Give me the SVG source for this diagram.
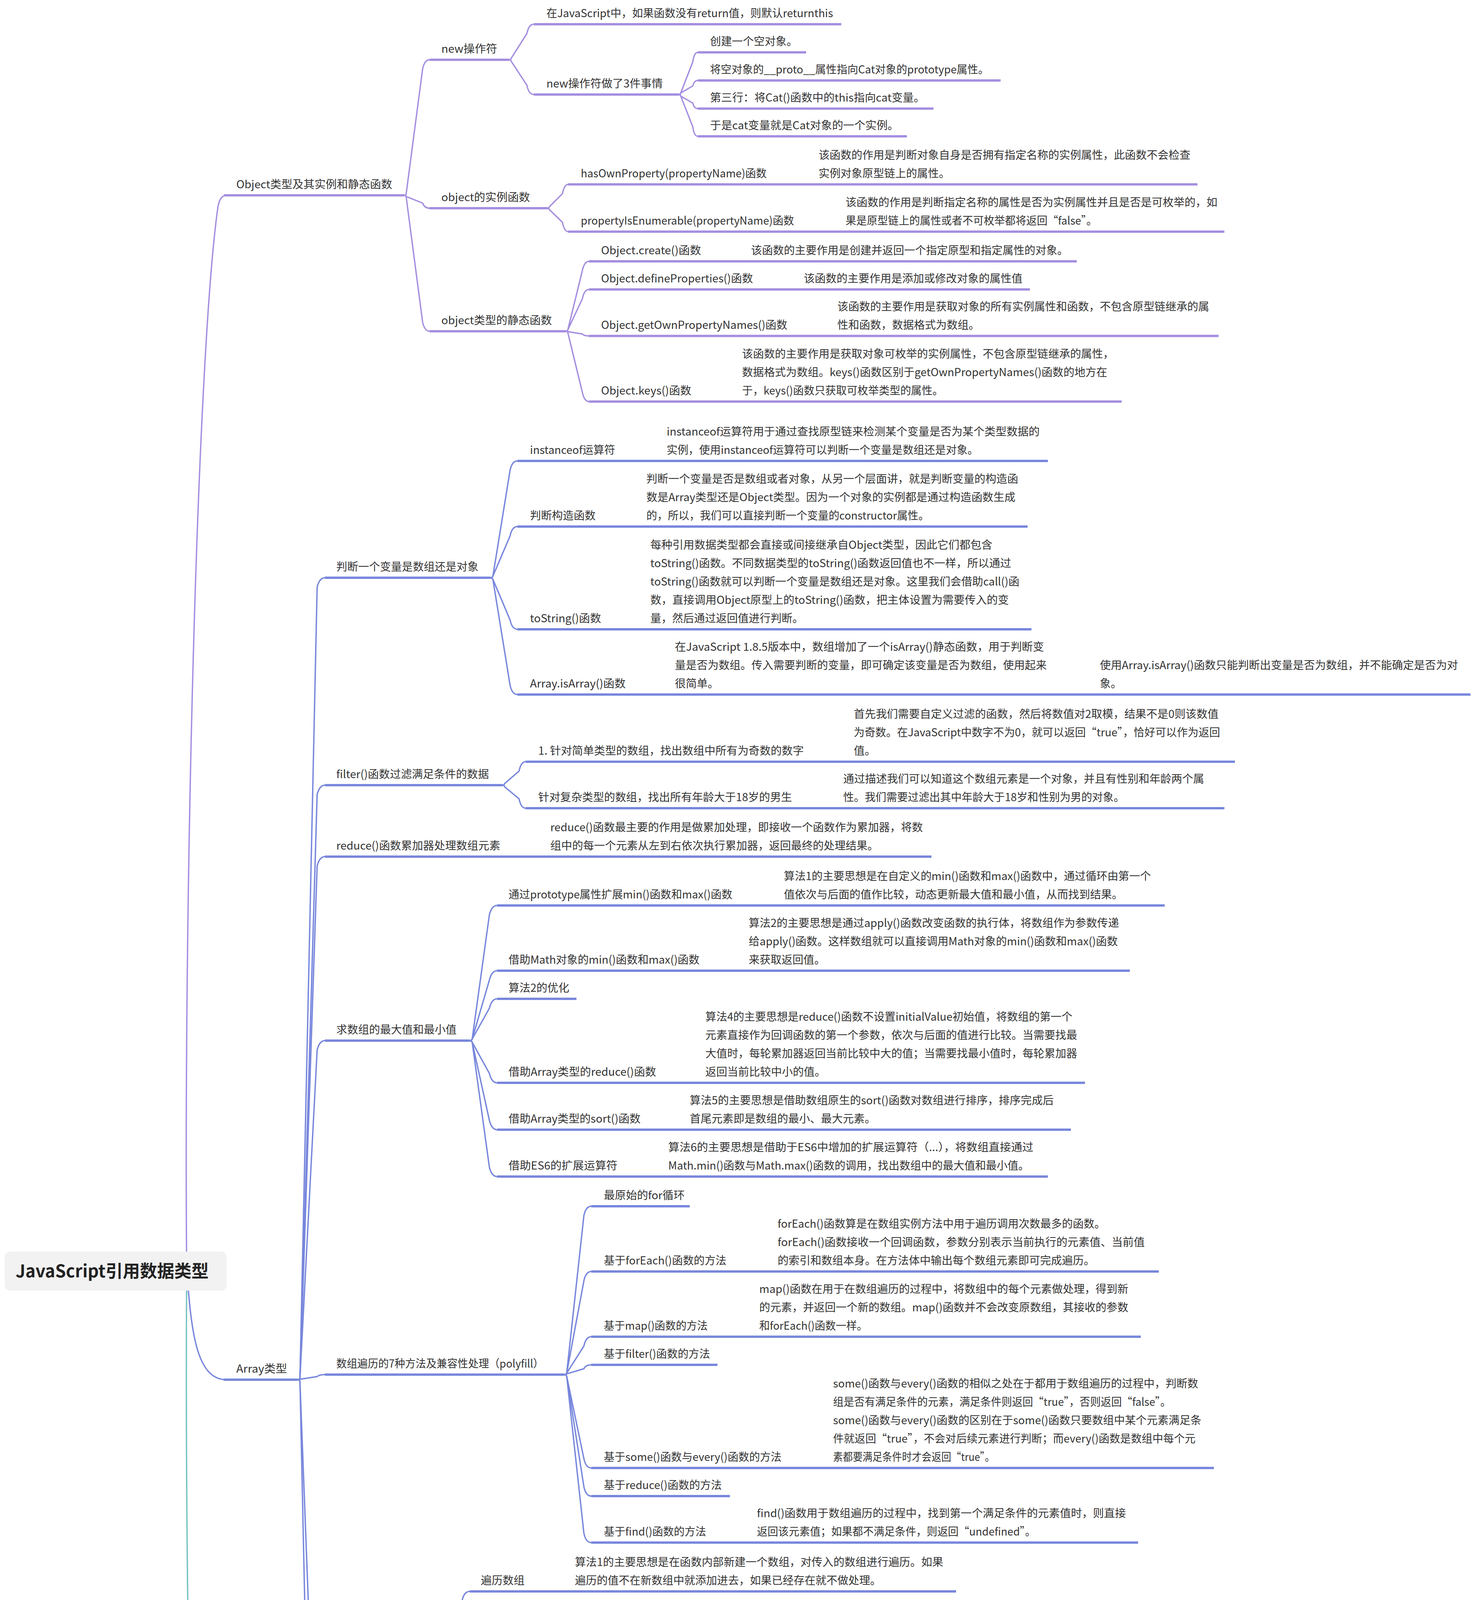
<svg xmlns="http://www.w3.org/2000/svg" width="3792" height="6244" viewBox="0 0 3792 6244">
<style>
.t{font-family:"Noto Sans CJK SC","Liberation Sans",sans-serif;font-size:28px;fill:#333}
.r{font-family:"Noto Sans CJK SC","Liberation Sans",sans-serif;font-size:44px;font-weight:bold;fill:#222}
.uo{stroke:#a58fe0;stroke-width:6;fill:none}
.ua{stroke:#7887dc;stroke-width:6;fill:none}
.ud{stroke:#77c4c1;stroke-width:6;fill:none}
.co{stroke:#a58fe0;stroke-width:3.5;fill:none}
.ca{stroke:#7887dc;stroke-width:3.5;fill:none}
.cd{stroke:#77c4c1;stroke-width:3.5;fill:none}
</style>
<rect width="3792" height="6244" fill="#ffffff"/>
<g id="connectors">
<path class="co" d="M478 3254 C470 2300 505 900 558 530 Q563 500 580 500"/>
<path class="ca" d="M478 3254 C490 3400 500 3532 580 3532"/>
<path class="cd" d="M478 3254 C470 4500 520 5800 560 5990 Q566 6017 585 6017"/>
<path class="co" d="M1035 500 Q1039 500 1040 496 L1082 177 Q1087 153 1100 153"/>
<path class="co" d="M1035 500 Q1039 500 1040 503 L1082 520 Q1087 533 1100 533"/>
<path class="co" d="M1035 500 Q1039 500 1040 504 L1082 824 Q1087 848 1100 848"/>
<path class="co" d="M1304 153 Q1308 153 1309 149 L1349 86 Q1354 62 1367 62"/>
<path class="co" d="M1304 153 Q1308 153 1309 157 L1349 218 Q1354 242 1367 242"/>
<path class="co" d="M1739 242 Q1742 242 1743 238 L1774 158 Q1777 134 1787 134"/>
<path class="co" d="M1739 242 Q1742 242 1743 238 L1774 220 Q1777 206 1787 206"/>
<path class="co" d="M1739 242 Q1742 242 1743 246 L1774 264 Q1777 278 1787 278"/>
<path class="co" d="M1739 242 Q1742 242 1743 246 L1774 325 Q1777 349 1787 349"/>
<path class="co" d="M1403 533 Q1406 533 1407 529 L1440 496 Q1445 472 1455 472"/>
<path class="co" d="M1403 533 Q1406 533 1407 537 L1440 569 Q1445 593 1455 593"/>
<path class="co" d="M1449 848 Q1453 848 1454 844 L1491 693 Q1496 669 1508 669"/>
<path class="co" d="M1449 848 Q1453 848 1454 844 L1491 765 Q1496 741 1508 741"/>
<path class="co" d="M1449 848 Q1453 848 1454 849 L1491 855 Q1496 860 1508 860"/>
<path class="co" d="M1449 848 Q1453 848 1454 852 L1491 1004 Q1496 1028 1508 1028"/>
<path class="ca" d="M762 3532 Q766 3532 768 3528 L812 1503 Q818 1479 832 1479"/>
<path class="ca" d="M762 3532 Q766 3532 768 3528 L812 2034 Q818 2010 832 2010"/>
<path class="ca" d="M762 3532 Q766 3532 768 3528 L812 2217 Q818 2193 832 2193"/>
<path class="ca" d="M762 3532 Q766 3532 768 3528 L812 2688 Q818 2664 832 2664"/>
<path class="ca" d="M762 3532 Q766 3532 768 3531 L812 3524 Q818 3519 832 3519"/>
<path class="ca" d="M762 3532 Q766 3532 768 3536 L812 4697 Q818 4721 832 4721"/>
<path class="ca" d="M762 3532 Q766 3532 768 3536 L812 5563 Q818 5587 832 5587"/>
<path class="ca" d="M1256 1479 Q1260 1479 1262 1475 L1306 1204 Q1311 1180 1325 1180"/>
<path class="ca" d="M1256 1479 Q1260 1479 1262 1475 L1306 1372 Q1311 1348 1325 1348"/>
<path class="ca" d="M1256 1479 Q1260 1479 1262 1483 L1306 1587 Q1311 1611 1325 1611"/>
<path class="ca" d="M1256 1479 Q1260 1479 1262 1483 L1306 1754 Q1311 1778 1325 1778"/>
<path class="ca" d="M1287 2010 Q1291 2010 1292 2006 L1329 1974 Q1334 1950 1346 1950"/>
<path class="ca" d="M1287 2010 Q1291 2010 1292 2014 L1329 2045 Q1334 2069 1346 2069"/>
<path class="ca" d="M1203 2664 Q1207 2664 1209 2660 L1253 2342 Q1259 2318 1273 2318"/>
<path class="ca" d="M1203 2664 Q1207 2664 1209 2660 L1253 2509 Q1259 2485 1273 2485"/>
<path class="ca" d="M1203 2664 Q1207 2664 1209 2660 L1253 2581 Q1259 2557 1273 2557"/>
<path class="ca" d="M1203 2664 Q1207 2664 1209 2668 L1253 2748 Q1259 2772 1273 2772"/>
<path class="ca" d="M1203 2664 Q1207 2664 1209 2668 L1253 2868 Q1259 2892 1273 2892"/>
<path class="ca" d="M1203 2664 Q1207 2664 1209 2668 L1253 2988 Q1259 3012 1273 3012"/>
<path class="ca" d="M1445 3519 Q1449 3519 1451 3515 L1495 3112 Q1500 3088 1514 3088"/>
<path class="ca" d="M1445 3519 Q1449 3519 1451 3515 L1495 3279 Q1500 3255 1514 3255"/>
<path class="ca" d="M1445 3519 Q1449 3519 1451 3515 L1495 3446 Q1500 3422 1514 3422"/>
<path class="ca" d="M1445 3519 Q1449 3519 1451 3517 L1495 3504 Q1500 3494 1514 3494"/>
<path class="ca" d="M1445 3519 Q1449 3519 1451 3523 L1495 3734 Q1500 3758 1514 3758"/>
<path class="ca" d="M1445 3519 Q1449 3519 1451 3523 L1495 3806 Q1500 3830 1514 3830"/>
<path class="ca" d="M1445 3519 Q1449 3519 1451 3523 L1495 3925 Q1500 3949 1514 3949"/>
<path class="ca" d="M1130 4721 Q1134 4721 1136 4717 L1183 4098 Q1188 4074 1203 4074"/>
<path class="ca" d="M1130 4721 Q1134 4721 1136 4717 L1183 4313 Q1188 4289 1203 4289"/>
<path class="ca" d="M1130 4721 Q1134 4721 1136 4717 L1183 4481 Q1188 4457 1203 4457"/>
<path class="ca" d="M1130 4721 Q1134 4721 1136 4725 L1183 5008 Q1188 5032 1203 5032"/>
<path class="ca" d="M1130 4721 Q1134 4721 1136 4725 L1183 5127 Q1188 5151 1203 5151"/>
<path class="ca" d="M1130 4721 Q1134 4721 1136 4725 L1183 5343 Q1188 5367 1203 5367"/>
<path class="ca" d="M2663 5367 Q2666 5367 2668 5363 L2705 5345 Q2709 5331 2721 5331"/>
<path class="ca" d="M2663 5367 Q2666 5367 2668 5371 L2705 5389 Q2709 5403 2721 5403"/>
<path class="ca" d="M1455 5587 Q1459 5587 1460 5583 L1497 5503 Q1502 5479 1514 5479"/>
<path class="ca" d="M1455 5587 Q1459 5587 1460 5583 L1497 5565 Q1502 5551 1514 5551"/>
<path class="ca" d="M1455 5587 Q1459 5587 1460 5591 L1497 5608 Q1502 5622 1514 5622"/>
<path class="ca" d="M1455 5587 Q1459 5587 1460 5591 L1497 5671 Q1502 5695 1514 5695"/>
<path class="cd" d="M699 6017 Q703 6017 705 6013 L749 5894 Q754 5870 768 5870"/>
<path class="cd" d="M699 6017 Q703 6017 705 6021 L749 6141 Q754 6165 768 6165"/>
<path class="cd" d="M969 5870 Q973 5870 974 5866 L1017 5822 Q1023 5798 1036 5798"/>
<path class="cd" d="M969 5870 Q973 5870 974 5874 L1017 5918 Q1023 5942 1036 5942"/>
<path class="cd" d="M944 6165 Q948 6165 949 6161 L992 6118 Q997 6094 1010 6094"/>
<path class="cd" d="M944 6165 Q948 6165 949 6169 L992 6213 Q997 6237 1010 6237"/>
</g>
<g id="n-root"><rect x="12" y="3204" width="568" height="100" rx="14" fill="#f2f2f2"/><text class="r" x="40" y="3270">JavaScript引用数据类型</text></g>
<g id="n-object"><path class="uo" d="M573 500H1035"/><text class="t" x="605" y="482" textLength="399" lengthAdjust="spacingAndGlyphs">Object类型及其实例和静态函数</text></g>
<g id="n-new"><path class="uo" d="M1100 153H1304"/><text class="t" x="1130" y="135" textLength="143" lengthAdjust="spacingAndGlyphs">new操作符</text></g>
<g id="n-new-return"><path class="uo" d="M1367 62H2154"/><text class="t" x="1399" y="44" textLength="734" lengthAdjust="spacingAndGlyphs">在JavaScript中，如果函数没有return值，则默认returnthis</text></g>
<g id="n-new-3"><path class="uo" d="M1367 242H1739"/><text class="t" x="1399" y="224" textLength="298" lengthAdjust="spacingAndGlyphs">new操作符做了3件事情</text></g>
<g id="n-new-3-1"><path class="uo" d="M1787 134H2064"/><text class="t" x="1818" y="116">创建一个空对象。</text></g>
<g id="n-new-3-2"><path class="uo" d="M1787 206H2562"/><text class="t" x="1818" y="188" textLength="714" lengthAdjust="spacingAndGlyphs">将空对象的__proto__属性指向Cat对象的prototype属性。</text></g>
<g id="n-new-3-3"><path class="uo" d="M1787 278H2390"/><text class="t" x="1818" y="260" textLength="550" lengthAdjust="spacingAndGlyphs">第三行：将Cat()函数中的this指向cat变量。</text></g>
<g id="n-new-3-4"><path class="uo" d="M1787 349H2322"/><text class="t" x="1818" y="331" textLength="483" lengthAdjust="spacingAndGlyphs">于是cat变量就是Cat对象的一个实例。</text></g>
<g id="n-inst"><path class="uo" d="M1100 533H1403"/><text class="t" x="1130" y="515" textLength="227" lengthAdjust="spacingAndGlyphs">object的实例函数</text></g>
<g id="n-hasown"><path class="uo" d="M1455 472H2066"/><text class="t" x="1487" y="454" textLength="476" lengthAdjust="spacingAndGlyphs">hasOwnProperty(propertyName)函数</text></g>
<g id="n-hasown-d"><path class="uo" d="M2066 472H3066"/><text class="t" x="2096" y="407">该函数的作用是判断对象自身是否拥有指定名称的实例属性，此函数不会检查</text><text class="t" x="2096" y="454">实例对象原型链上的属性。</text></g>
<g id="n-propenum"><path class="uo" d="M1455 593H2135"/><text class="t" x="1487" y="575" textLength="546" lengthAdjust="spacingAndGlyphs">propertyIsEnumerable(propertyName)函数</text></g>
<g id="n-propenum-d"><path class="uo" d="M2135 593H3135"/><text class="t" x="2165" y="528">该函数的作用是判断指定名称的属性是否为实例属性并且是否是可枚举的，如</text><text class="t" x="2165" y="575" textLength="644" lengthAdjust="spacingAndGlyphs">果是原型链上的属性或者不可枚举都将返回“false”。</text></g>
<g id="n-static"><path class="uo" d="M1100 848H1449"/><text class="t" x="1130" y="830" textLength="283" lengthAdjust="spacingAndGlyphs">object类型的静态函数</text></g>
<g id="n-create"><path class="uo" d="M1508 669H1893"/><text class="t" x="1539" y="651" textLength="256" lengthAdjust="spacingAndGlyphs">Object.create()函数</text></g>
<g id="n-create-d"><path class="uo" d="M1893 669H2757"/><text class="t" x="1923" y="651">该函数的主要作用是创建并返回一个指定原型和指定属性的对象。</text></g>
<g id="n-define"><path class="uo" d="M1508 741H2028"/><text class="t" x="1539" y="723" textLength="389" lengthAdjust="spacingAndGlyphs">Object.defineProperties()函数</text></g>
<g id="n-define-d"><path class="uo" d="M2028 741H2637"/><text class="t" x="2058" y="723">该函数的主要作用是添加或修改对象的属性值</text></g>
<g id="n-getown"><path class="uo" d="M1508 860H2114"/><text class="t" x="1539" y="842" textLength="477" lengthAdjust="spacingAndGlyphs">Object.getOwnPropertyNames()函数</text></g>
<g id="n-getown-d"><path class="uo" d="M2114 860H3120"/><text class="t" x="2144" y="795">该函数的主要作用是获取对象的所有实例属性和函数，不包含原型链继承的属</text><text class="t" x="2144" y="842">性和函数，数据格式为数组。</text></g>
<g id="n-keys"><path class="uo" d="M1508 1028H1870"/><text class="t" x="1539" y="1010" textLength="231" lengthAdjust="spacingAndGlyphs">Object.keys()函数</text></g>
<g id="n-keys-d"><path class="uo" d="M1870 1028H2872"/><text class="t" x="1900" y="916">该函数的主要作用是获取对象可枚举的实例属性，不包含原型链继承的属性，</text><text class="t" x="1900" y="963" textLength="935" lengthAdjust="spacingAndGlyphs">数据格式为数组。keys()函数区别于getOwnPropertyNames()函数的地方在</text><text class="t" x="1900" y="1010" textLength="515" lengthAdjust="spacingAndGlyphs">于，keys()函数只获取可枚举类型的属性。</text></g>
<g id="n-array"><path class="ua" d="M573 3532H762"/><text class="t" x="605" y="3514" textLength="130" lengthAdjust="spacingAndGlyphs">Array类型</text></g>
<g id="n-judge"><path class="ua" d="M832 1479H1256"/><text class="t" x="861" y="1461">判断一个变量是数组还是对象</text></g>
<g id="n-instanceof"><path class="ua" d="M1325 1180H1677"/><text class="t" x="1357" y="1162" textLength="218" lengthAdjust="spacingAndGlyphs">instanceof运算符</text></g>
<g id="n-instanceof-d"><path class="ua" d="M1677 1180H2683"/><text class="t" x="1707" y="1115" textLength="955" lengthAdjust="spacingAndGlyphs">instanceof运算符用于通过查找原型链来检测某个变量是否为某个类型数据的</text><text class="t" x="1707" y="1162" textLength="798" lengthAdjust="spacingAndGlyphs">实例，使用instanceof运算符可以判断一个变量是数组还是对象。</text></g>
<g id="n-ctor"><path class="ua" d="M1325 1348H1625"/><text class="t" x="1357" y="1330">判断构造函数</text></g>
<g id="n-ctor-d"><path class="ua" d="M1625 1348H2631"/><text class="t" x="1655" y="1236">判断一个变量是否是数组或者对象，从另一个层面讲，就是判断变量的构造函</text><text class="t" x="1655" y="1283" textLength="945" lengthAdjust="spacingAndGlyphs">数是Array类型还是Object类型。因为一个对象的实例都是通过构造函数生成</text><text class="t" x="1655" y="1330" textLength="724" lengthAdjust="spacingAndGlyphs">的，所以，我们可以直接判断一个变量的constructor属性。</text></g>
<g id="n-tostring"><path class="ua" d="M1325 1611H1635"/><text class="t" x="1357" y="1593" textLength="182" lengthAdjust="spacingAndGlyphs">toString()函数</text></g>
<g id="n-tostring-d"><path class="ua" d="M1635 1611H2641"/><text class="t" x="1665" y="1405" textLength="876" lengthAdjust="spacingAndGlyphs">每种引用数据类型都会直接或间接继承自Object类型，因此它们都包含</text><text class="t" x="1665" y="1452" textLength="924" lengthAdjust="spacingAndGlyphs">toString()函数。不同数据类型的toString()函数返回值也不一样，所以通过</text><text class="t" x="1665" y="1499" textLength="945" lengthAdjust="spacingAndGlyphs">toString()函数就可以判断一个变量是数组还是对象。这里我们会借助call()函</text><text class="t" x="1665" y="1546" textLength="918" lengthAdjust="spacingAndGlyphs">数，直接调用Object原型上的toString()函数，把主体设置为需要传入的变</text><text class="t" x="1665" y="1593">量，然后通过返回值进行判断。</text></g>
<g id="n-isarray"><path class="ua" d="M1325 1778H1698"/><text class="t" x="1357" y="1760" textLength="245" lengthAdjust="spacingAndGlyphs">Array.isArray()函数</text></g>
<g id="n-isarray-d"><path class="ua" d="M1698 1778H2704"/><text class="t" x="1728" y="1666" textLength="945" lengthAdjust="spacingAndGlyphs">在JavaScript 1.8.5版本中，数组增加了一个isArray()静态函数，用于判断变</text><text class="t" x="1728" y="1713">量是否为数组。传入需要判断的变量，即可确定该变量是否为数组，使用起来</text><text class="t" x="1728" y="1760">很简单。</text></g>
<g id="n-isarray-d2"><path class="ua" d="M2704 1778H3765"/><text class="t" x="2816" y="1713" textLength="917" lengthAdjust="spacingAndGlyphs">使用Array.isArray()函数只能判断出变量是否为数组，并不能确定是否为对</text><text class="t" x="2816" y="1760">象。</text></g>
<g id="n-filter"><path class="ua" d="M832 2010H1287"/><text class="t" x="861" y="1992" textLength="391" lengthAdjust="spacingAndGlyphs">filter()函数过滤满足条件的数据</text></g>
<g id="n-filter-1"><path class="ua" d="M1346 1950H2156"/><text class="t" x="1378" y="1932" textLength="680" lengthAdjust="spacingAndGlyphs">1. 针对简单类型的数组，找出数组中所有为奇数的数字</text></g>
<g id="n-filter-1-d"><path class="ua" d="M2156 1950H3162"/><text class="t" x="2186" y="1838" textLength="934" lengthAdjust="spacingAndGlyphs">首先我们需要自定义过滤的函数，然后将数值对2取模，结果不是0则该数值</text><text class="t" x="2186" y="1885" textLength="938" lengthAdjust="spacingAndGlyphs">为奇数。在JavaScript中数字不为0，就可以返回“true”，恰好可以作为返回</text><text class="t" x="2186" y="1932">值。</text></g>
<g id="n-filter-2"><path class="ua" d="M1346 2069H2129"/><text class="t" x="1378" y="2051" textLength="650" lengthAdjust="spacingAndGlyphs">针对复杂类型的数组，找出所有年龄大于18岁的男生</text></g>
<g id="n-filter-2-d"><path class="ua" d="M2129 2069H3135"/><text class="t" x="2159" y="2004">通过描述我们可以知道这个数组元素是一个对象，并且有性别和年龄两个属</text><text class="t" x="2159" y="2051" textLength="720" lengthAdjust="spacingAndGlyphs">性。我们需要过滤出其中年龄大于18岁和性别为男的对象。</text></g>
<g id="n-reduce"><path class="ua" d="M832 2193H1379"/><text class="t" x="861" y="2175" textLength="420" lengthAdjust="spacingAndGlyphs">reduce()函数累加器处理数组元素</text></g>
<g id="n-reduce-d"><path class="ua" d="M1379 2193H2385"/><text class="t" x="1409" y="2128" textLength="954" lengthAdjust="spacingAndGlyphs">reduce()函数最主要的作用是做累加处理，即接收一个函数作为累加器，将数</text><text class="t" x="1409" y="2175">组中的每一个元素从左到右依次执行累加器，返回最终的处理结果。</text></g>
<g id="n-minmax"><path class="ua" d="M832 2664H1203"/><text class="t" x="861" y="2646">求数组的最大值和最小值</text></g>
<g id="n-mm-1"><path class="ua" d="M1273 2318H1977"/><text class="t" x="1302" y="2300" textLength="573" lengthAdjust="spacingAndGlyphs">通过prototype属性扩展min()函数和max()函数</text></g>
<g id="n-mm-1-d"><path class="ua" d="M1977 2318H2982"/><text class="t" x="2007" y="2253" textLength="940" lengthAdjust="spacingAndGlyphs">算法1的主要思想是在自定义的min()函数和max()函数中，通过循环由第一个</text><text class="t" x="2007" y="2300">值依次与后面的值作比较，动态更新最大值和最小值，从而找到结果。</text></g>
<g id="n-mm-2"><path class="ua" d="M1273 2485H1887"/><text class="t" x="1302" y="2467" textLength="489" lengthAdjust="spacingAndGlyphs">借助Math对象的min()函数和max()函数</text></g>
<g id="n-mm-2-d"><path class="ua" d="M1887 2485H2893"/><text class="t" x="1917" y="2373" textLength="948" lengthAdjust="spacingAndGlyphs">算法2的主要思想是通过apply()函数改变函数的执行体，将数组作为参数传递</text><text class="t" x="1917" y="2420" textLength="945" lengthAdjust="spacingAndGlyphs">给apply()函数。这样数组就可以直接调用Math对象的min()函数和max()函数</text><text class="t" x="1917" y="2467">来获取返回值。</text></g>
<g id="n-mm-3"><path class="ua" d="M1273 2557H1476"/><text class="t" x="1302" y="2539">算法2的优化</text></g>
<g id="n-mm-4"><path class="ua" d="M1273 2772H1776"/><text class="t" x="1302" y="2754" textLength="378" lengthAdjust="spacingAndGlyphs">借助Array类型的reduce()函数</text></g>
<g id="n-mm-4-d"><path class="ua" d="M1776 2772H2778"/><text class="t" x="1806" y="2613" textLength="940" lengthAdjust="spacingAndGlyphs">算法4的主要思想是reduce()函数不设置initialValue初始值，将数组的第一个</text><text class="t" x="1806" y="2660">元素直接作为回调函数的第一个参数，依次与后面的值进行比较。当需要找最</text><text class="t" x="1806" y="2707">大值时，每轮累加器返回当前比较中大的值；当需要找最小值时，每轮累加器</text><text class="t" x="1806" y="2754">返回当前比较中小的值。</text></g>
<g id="n-mm-5"><path class="ua" d="M1273 2892H1736"/><text class="t" x="1302" y="2874" textLength="338" lengthAdjust="spacingAndGlyphs">借助Array类型的sort()函数</text></g>
<g id="n-mm-5-d"><path class="ua" d="M1736 2892H2742"/><text class="t" x="1766" y="2827" textLength="932" lengthAdjust="spacingAndGlyphs">算法5的主要思想是借助数组原生的sort()函数对数组进行排序，排序完成后</text><text class="t" x="1766" y="2874">首尾元素即是数组的最小、最大元素。</text></g>
<g id="n-mm-6"><path class="ua" d="M1273 3012H1681"/><text class="t" x="1302" y="2994" textLength="279" lengthAdjust="spacingAndGlyphs">借助ES6的扩展运算符</text></g>
<g id="n-mm-6-d"><path class="ua" d="M1681 3012H2683"/><text class="t" x="1711" y="2947" textLength="935" lengthAdjust="spacingAndGlyphs">算法6的主要思想是借助于ES6中增加的扩展运算符（...），将数组直接通过</text><text class="t" x="1711" y="2994" textLength="924" lengthAdjust="spacingAndGlyphs">Math.min()函数与Math.max()函数的调用，找出数组中的最大值和最小值。</text></g>
<g id="n-traverse"><path class="ua" d="M832 3519H1445"/><text class="t" x="861" y="3501" textLength="531" lengthAdjust="spacingAndGlyphs">数组遍历的7种方法及兼容性处理（polyfill）</text></g>
<g id="n-tr-1"><path class="ua" d="M1514 3088H1766"/><text class="t" x="1546" y="3070" textLength="207" lengthAdjust="spacingAndGlyphs">最原始的for循环</text></g>
<g id="n-tr-2"><path class="ua" d="M1514 3255H1961"/><text class="t" x="1546" y="3237" textLength="314" lengthAdjust="spacingAndGlyphs">基于forEach()函数的方法</text></g>
<g id="n-tr-2-d"><path class="ua" d="M1961 3255H2967"/><text class="t" x="1991" y="3143" textLength="839" lengthAdjust="spacingAndGlyphs">forEach()函数算是在数组实例方法中用于遍历调用次数最多的函数。</text><text class="t" x="1991" y="3190" textLength="940" lengthAdjust="spacingAndGlyphs">forEach()函数接收一个回调函数，参数分别表示当前执行的元素值、当前值</text><text class="t" x="1991" y="3237">的索引和数组本身。在方法体中输出每个数组元素即可完成遍历。</text></g>
<g id="n-tr-3"><path class="ua" d="M1514 3422H1914"/><text class="t" x="1546" y="3404" textLength="266" lengthAdjust="spacingAndGlyphs">基于map()函数的方法</text></g>
<g id="n-tr-3-d"><path class="ua" d="M1914 3422H2921"/><text class="t" x="1944" y="3310" textLength="945" lengthAdjust="spacingAndGlyphs">map()函数在用于在数组遍历的过程中，将数组中的每个元素做处理，得到新</text><text class="t" x="1944" y="3357" textLength="945" lengthAdjust="spacingAndGlyphs">的元素，并返回一个新的数组。map()函数并不会改变原数组，其接收的参数</text><text class="t" x="1944" y="3404" textLength="277" lengthAdjust="spacingAndGlyphs">和forEach()函数一样。</text></g>
<g id="n-tr-4"><path class="ua" d="M1514 3494H1837"/><text class="t" x="1546" y="3476" textLength="272" lengthAdjust="spacingAndGlyphs">基于filter()函数的方法</text></g>
<g id="n-tr-5"><path class="ua" d="M1514 3758H2103"/><text class="t" x="1546" y="3740" textLength="455" lengthAdjust="spacingAndGlyphs">基于some()函数与every()函数的方法</text></g>
<g id="n-tr-5-d"><path class="ua" d="M2103 3758H3108"/><text class="t" x="2133" y="3552" textLength="935" lengthAdjust="spacingAndGlyphs">some()函数与every()函数的相似之处在于都用于数组遍历的过程中，判断数</text><text class="t" x="2133" y="3599" textLength="865" lengthAdjust="spacingAndGlyphs">组是否有满足条件的元素，满足条件则返回“true”，否则返回“false”。</text><text class="t" x="2133" y="3646" textLength="943" lengthAdjust="spacingAndGlyphs">some()函数与every()函数的区别在于some()函数只要数组中某个元素满足条</text><text class="t" x="2133" y="3693" textLength="928" lengthAdjust="spacingAndGlyphs">件就返回“true”，不会对后续元素进行判断；而every()函数是数组中每个元</text><text class="t" x="2133" y="3740" textLength="414" lengthAdjust="spacingAndGlyphs">素都要满足条件时才会返回“true”。</text></g>
<g id="n-tr-6"><path class="ua" d="M1514 3830H1869"/><text class="t" x="1546" y="3812" textLength="302" lengthAdjust="spacingAndGlyphs">基于reduce()函数的方法</text></g>
<g id="n-tr-7"><path class="ua" d="M1514 3949H1908"/><text class="t" x="1546" y="3931" textLength="262" lengthAdjust="spacingAndGlyphs">基于find()函数的方法</text></g>
<g id="n-tr-7-d"><path class="ua" d="M1908 3949H2914"/><text class="t" x="1938" y="3884" textLength="945" lengthAdjust="spacingAndGlyphs">find()函数用于数组遍历的过程中，找到第一个满足条件的元素值时，则直接</text><text class="t" x="1938" y="3931" textLength="714" lengthAdjust="spacingAndGlyphs">返回该元素值；如果都不满足条件，则返回“undefined”。</text></g>
<g id="n-dedup"><path class="ua" d="M832 4721H1130"/><text class="t" x="861" y="4703" textLength="241" lengthAdjust="spacingAndGlyphs">数组去重的7种算法</text></g>
<g id="n-dd-1"><path class="ua" d="M1203 4074H1442"/><text class="t" x="1231" y="4056">遍历数组</text></g>
<g id="n-dd-1-d"><path class="ua" d="M1442 4074H2448"/><text class="t" x="1472" y="4009" textLength="943" lengthAdjust="spacingAndGlyphs">算法1的主要思想是在函数内部新建一个数组，对传入的数组进行遍历。如果</text><text class="t" x="1472" y="4056">遍历的值不在新数组中就添加进去，如果已经存在就不做处理。</text></g>
<g id="n-dd-2"><path class="ua" d="M1203 4289H1530"/><text class="t" x="1231" y="4271">利用对象键值对</text></g>
<g id="n-dd-2-d"><path class="ua" d="M1530 4289H2532"/><text class="t" x="1560" y="4130" textLength="949" lengthAdjust="spacingAndGlyphs">算法2的主要思想是新建一个JS对象以及一个新的数组，对传入的数组进行遍</text><text class="t" x="1560" y="4177" textLength="913" lengthAdjust="spacingAndGlyphs">历，判断当前遍历的值是否为JS对象的键。如果是，表示该元素已出现过，</text><text class="t" x="1560" y="4224" textLength="913" lengthAdjust="spacingAndGlyphs">则不做处理；如果不是，表示该元素第一次出现，则给该JS对象插入该键，</text><text class="t" x="1560" y="4271">同时插入新的数组，最终返回新的数组。</text></g>
<g id="n-dd-3"><path class="ua" d="M1203 4457H1530"/><text class="t" x="1231" y="4439">先排序，再去重</text></g>
<g id="n-dd-3-d"><path class="ua" d="M1530 4457H2532"/><text class="t" x="1560" y="4345" textLength="924" lengthAdjust="spacingAndGlyphs">算法3的主要思想是借助原生的sort()函数对数组进行排序，然后对排序后的</text><text class="t" x="1560" y="4392">数组进行相邻元素的去重，将去重后的元素添加至新的数组中，返回这个新数</text><text class="t" x="1560" y="4439">组。</text></g>
<g id="n-dd-4"><path class="ua" d="M1130 4721H1503"/><text class="t" x="1231" y="4703">优先遍历数组</text></g>
<g id="n-dd-4-d"><path class="ua" d="M1503 4721H2505"/><text class="t" x="1533" y="4515" textLength="909" lengthAdjust="spacingAndGlyphs">算法4的主要思想是利用双层循环，分别指定循环的索引i与j，j的初始值为</text><text class="t" x="1533" y="4562" textLength="945" lengthAdjust="spacingAndGlyphs">i+1。在每层循环中，比较索引i和j的值是否相等，如果相等则表示数组中出现</text><text class="t" x="1533" y="4609" textLength="930" lengthAdjust="spacingAndGlyphs">了相同的值，则需要更新索引i与j，操作为++i；同时将其赋值给j，再对新的</text><text class="t" x="1533" y="4656" textLength="945" lengthAdjust="spacingAndGlyphs">索引i与j的值进行比较。循环结束后会得到一个索引值i，表示的是右侧没有出</text><text class="t" x="1533" y="4703" textLength="720" lengthAdjust="spacingAndGlyphs">现相同的值，将其push到结果数组中，最后返回结果数组。</text></g>
<g id="n-dd-5"><path class="ua" d="M1203 5032H1551"/><text class="t" x="1231" y="5014" textLength="224" lengthAdjust="spacingAndGlyphs">基于reduce()函数</text></g>
<g id="n-dd-5-d"><path class="ua" d="M1551 5032H2557"/><text class="t" x="1581" y="4779" textLength="903" lengthAdjust="spacingAndGlyphs">算法5的主要思想是利用reduce()函数，类似于算法2，需要借助一个key-</text><text class="t" x="1581" y="4826" textLength="951" lengthAdjust="spacingAndGlyphs">value对象。在reduce()函数的循环中判断key是否重复，如果为是，则将当前</text><text class="t" x="1581" y="4873" textLength="955" lengthAdjust="spacingAndGlyphs">元素push至结果数组中。实际做法是设置initialValue为一个空数组[]，同时将</text><text class="t" x="1581" y="4920" textLength="955" lengthAdjust="spacingAndGlyphs">initialValue作为最终的结果进行返回。在reduce()函数的每一轮循环中都会判</text><text class="t" x="1581" y="4967" textLength="949" lengthAdjust="spacingAndGlyphs">断数据类型，如果数据类型不同，将表示为不同的值，如1和“1”，将作为不重</text><text class="t" x="1581" y="5014">复的值。</text></g>
<g id="n-dd-6"><path class="ua" d="M1203 5151H1625"/><text class="t" x="1231" y="5133" textLength="294" lengthAdjust="spacingAndGlyphs">借助ES6的Set数据结构</text></g>
<g id="n-dd-6-d"><path class="ua" d="M1625 5151H2631"/><text class="t" x="1655" y="5086" textLength="955" lengthAdjust="spacingAndGlyphs">算法6的主要思想是借助于ES6中新增的Set数据结构，它类似于数组，但是有</text><text class="t" x="1655" y="5133" textLength="762" lengthAdjust="spacingAndGlyphs">一个特点，即成员都是唯一的，所以Set具有自动去重的功能。</text></g>
<g id="n-dd-7"><path class="ua" d="M1203 5367H1635"/><text class="t" x="1231" y="5349" textLength="304" lengthAdjust="spacingAndGlyphs">借助ES6的Map数据结构</text></g>
<g id="n-dd-7-d"><path class="ua" d="M1635 5367H2663"/><text class="t" x="1665" y="5208" textLength="920" lengthAdjust="spacingAndGlyphs">算法7的主要思想是借助于ES6中新增的Map数据结构，它是一种基于key-</text><text class="t" x="1665" y="5255" textLength="941" lengthAdjust="spacingAndGlyphs">value存储数据的结构，每个key都只对应唯一的value。如果将数组元素作为</text><text class="t" x="1665" y="5302" textLength="914" lengthAdjust="spacingAndGlyphs">Map的key，那么判断Map中是否有相同的key，就可以判断出元素的重复</text><text class="t" x="1665" y="5349">性。</text></g>
<g id="n-dd-7-1"><path class="ua" d="M2721 5331H3727"/><text class="t" x="2753" y="5266" textLength="934" lengthAdjust="spacingAndGlyphs">Map还有一个特点是key会识别不同数据类型的数据，即1与“1”在Map中会作</text><text class="t" x="2753" y="5313" textLength="735" lengthAdjust="spacingAndGlyphs">为不同的key处理，不需要通过额外的函数来判断数据类型。</text></g>
<g id="n-dd-7-2"><path class="ua" d="M2721 5403H3611"/><text class="t" x="2753" y="5385" textLength="823" lengthAdjust="spacingAndGlyphs">基于Map数据结构，通过filter()函数过滤，即可获得去重后的结果。</text></g>
<g id="n-most"><path class="ua" d="M832 5587H1455"/><text class="t" x="1021" y="5569">找出数组中出现次数最多的元素</text></g>
<g id="n-m-1"><path class="ua" d="M1514 5479H1703"/><text class="t" x="1546" y="5461">利用键值对</text></g>
<g id="n-m-2"><path class="ua" d="M1514 5551H1743"/><text class="t" x="1546" y="5533">对算法1的优化</text></g>
<g id="n-m-3"><path class="ua" d="M1514 5622H1934"/><text class="t" x="1546" y="5604" textLength="371" lengthAdjust="spacingAndGlyphs">借助Array类型的reduce()函数</text></g>
<g id="n-m-4"><path class="ua" d="M1514 5695H2007"/><text class="t" x="1546" y="5677" textLength="445" lengthAdjust="spacingAndGlyphs">借助ES6与逗号运算符进行代码优化</text></g>
<g id="n-date"><path class="ud" d="M580 6017H699"/><text class="t" x="606" y="5999">Date</text></g>
<g id="n-df"><path class="ud" d="M768 5870H969"/><text class="t" x="801" y="5852">日期格式化</text></g>
<g id="n-df-1"><path class="ud" d="M1036 5798H1397"/><text class="t" x="1069" y="5780">基于严格的时间格式解析</text></g>
<g id="n-df-2"><path class="ud" d="M969 5870H1267"/><text class="t" x="1069" y="5852">对方法1的优化</text></g>
<g id="n-df-3"><path class="ud" d="M1036 5942H1420"/><text class="t" x="1069" y="5924" textLength="334" lengthAdjust="spacingAndGlyphs">基于成型的类库Moment.js</text></g>
<g id="n-dv"><path class="ud" d="M699 6017H1014"/><text class="t" x="801" y="5999">日期合法性校验</text></g>
<g id="n-dc"><path class="ud" d="M768 6165H944"/><text class="t" x="801" y="6147">日期计算</text></g>
<g id="n-dc-1"><path class="ud" d="M1010 6094H1227"/><text class="t" x="1043" y="6076">比较日期大小</text></g>
<g id="n-dc-2"><path class="ud" d="M944 6165H1416"/><text class="t" x="1043" y="6147" textLength="354" lengthAdjust="spacingAndGlyphs">计算当前日期前后N天的日期</text></g>
<g id="n-dc-3"><path class="ud" d="M1010 6237H1339"/><text class="t" x="1043" y="6219">计算两个日期的时间差</text></g>
</svg>
